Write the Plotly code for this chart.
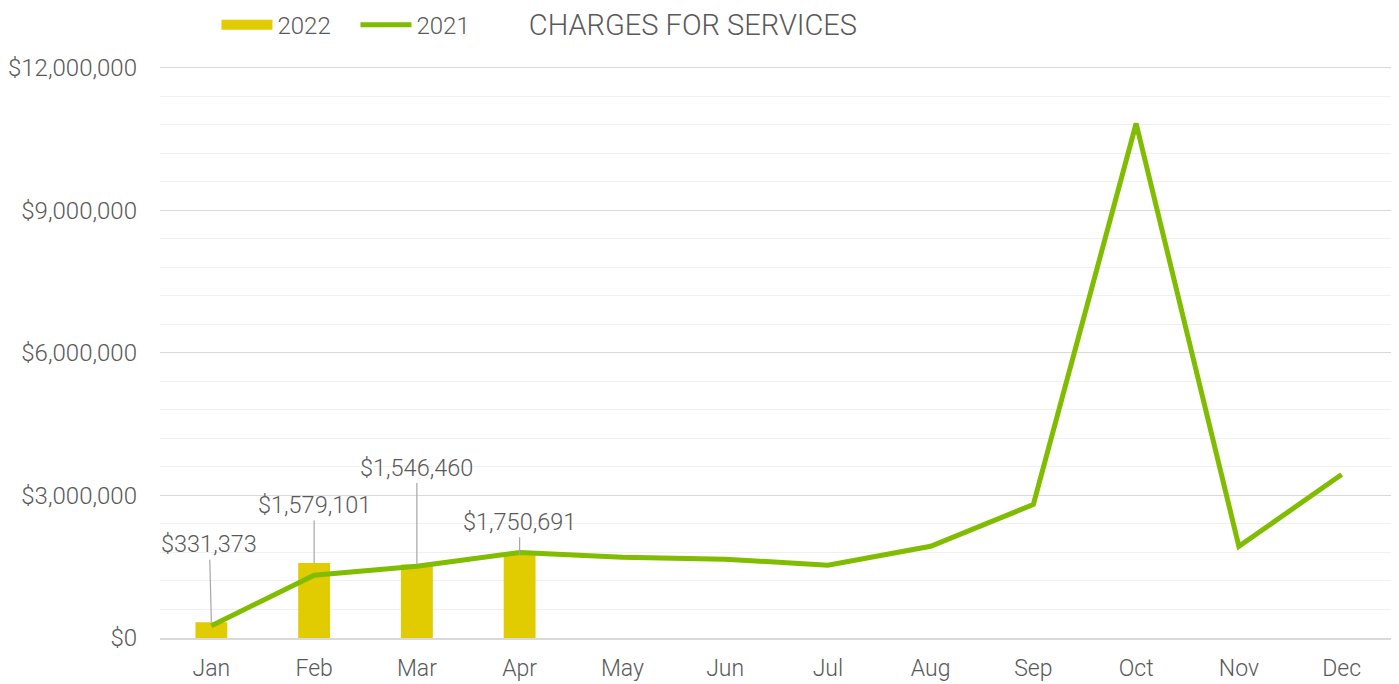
import plotly.graph_objects as go

months = ['Jan', 'Feb', 'Mar', 'Apr', 'May', 'Jun', 'Jul', 'Aug', 'Sep', 'Oct', 'Nov', 'Dec']
months_2022 = ['Jan', 'Feb', 'Mar', 'Apr']
charges_2022 = [331373, 1579101, 1546460, 1750691]
charges_2021 = [260000, 1320000, 1510000, 1800000, 1700000, 1660000,
                1530000, 1930000, 2810000, 10830000, 1930000, 3440000]
# label offsets (px) for the 2022 callouts
label_offsets = [(-2, -78), (0, -58), (0, -97), (0, -33)]

yellow = '#E0CC00'
green = '#80BC00'
grey = '#595959'
font = 'Roboto'

fig = go.Figure()
fig.add_trace(go.Bar(x=months_2022, y=charges_2022, name='2022',
                     marker=dict(color=yellow, line=dict(width=0)),
                     width=0.31, showlegend=False))
# legend-only swatch so the 2022 key looks like a wide bar
fig.add_trace(go.Scatter(x=[None], y=[None], mode='lines', name='2022',
                         line=dict(color=yellow, width=12)))
fig.add_trace(go.Scatter(x=months, y=charges_2021, mode='lines', name='2021',
                         line=dict(color=green, width=5)))

for m, v, (ax, ay) in zip(months_2022, charges_2022, label_offsets):
    fig.add_annotation(x=m, y=v, text='${:,.0f}'.format(v),
                       showarrow=True, arrowhead=0, arrowwidth=1.2, arrowcolor='#A6A6A6',
                       ax=ax, ay=ay, standoff=0,
                       font=dict(family=font, size=23.5, color=grey, weight=300))

# page body adds an 8px offset, margins compensate for it
fig.update_layout(
    width=1399, height=684,
    paper_bgcolor='white', plot_bgcolor='white',
    margin=dict(l=152, r=14, t=58, b=54),
    title=dict(text='CHARGES FOR SERVICES', x=0.4896, xref='container', xanchor='center',
               y=0.976, yref='container', yanchor='middle',
               font=dict(family=font, size=29, color=grey, weight=300)),
    legend=dict(orientation='h', xref='container', x=0.149, yref='container', y=0.975,
                yanchor='middle', xanchor='left',
                font=dict(family=font, size=24, color=grey, weight=300),
                itemwidth=51, entrywidth=73, entrywidthmode='pixels', traceorder='normal'),
    bargap=0.69,
)
fig.update_xaxes(categoryorder='array', categoryarray=months, range=[-0.5, 11.5],
                 showgrid=False, showline=True, linecolor='#D9D9D9', linewidth=1.5,
                 ticks='', ticklabelstandoff=9, automargin=False,
                 tickfont=dict(family=font, size=23, color=grey, weight=300))
# top slightly above 12M so its gridline is not clipped at the plot edge
fig.update_yaxes(range=[0, 12040000], dtick=3000000, tickformat='$,.0f',
                 showgrid=True, gridcolor='#D9D9D9', gridwidth=1,
                 zeroline=False, ticklabelstandoff=22, automargin=False,
                 minor=dict(dtick=600000, showgrid=True, gridcolor='#F0F0F0', gridwidth=1),
                 tickfont=dict(family=font, size=24, color=grey, weight=300))

fig.write_html('out.html')
